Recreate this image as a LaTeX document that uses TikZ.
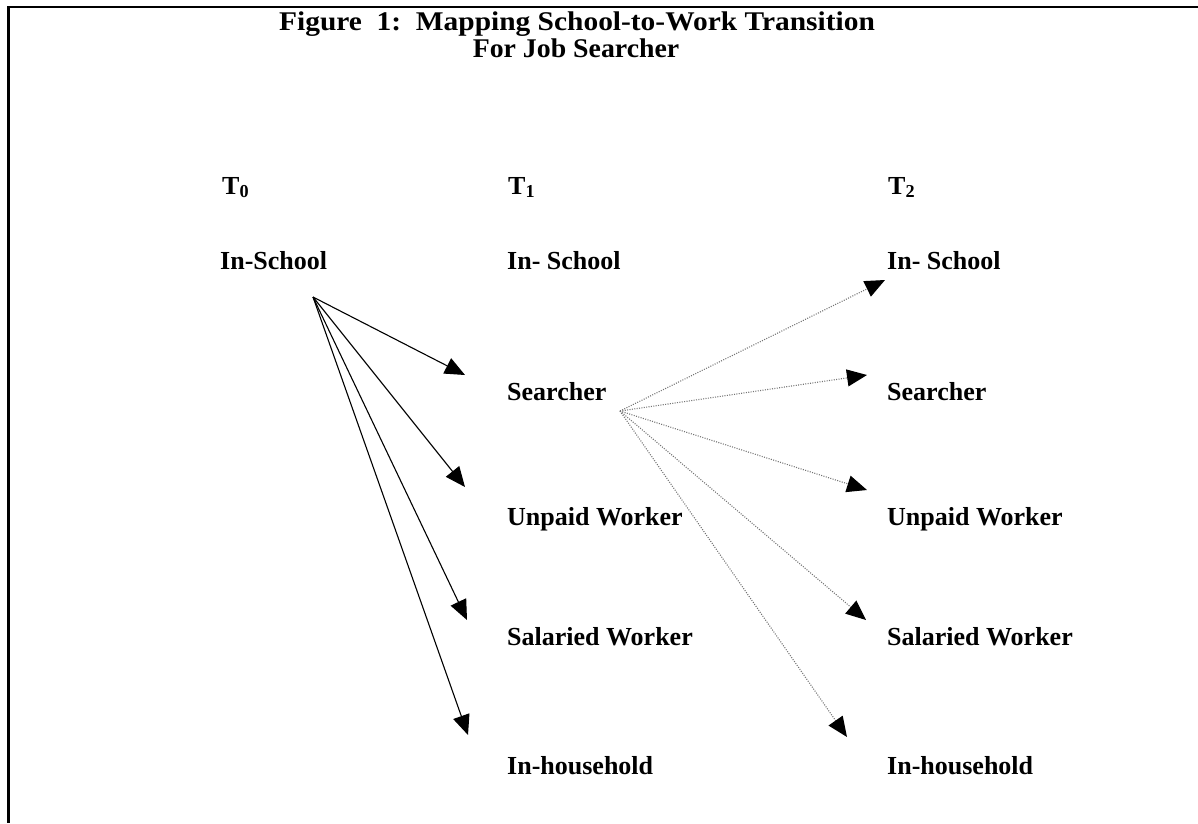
\documentclass[tikz,border=0pt]{standalone}
\usepackage{fontspec}
\setmainfont{Liberation Serif}
\usetikzlibrary{arrows.meta}
\begin{document}
\begin{tikzpicture}[x=1pt,y=-1pt,
  lbl/.style={anchor=base west,inner sep=0pt,font=\fontsize{26}{30}\selectfont\bfseries},
  ttl/.style={anchor=base,inner sep=0pt,font=\fontsize{27}{30}\selectfont\bfseries},
  head/.style={-{Triangle[length=20pt,width=17pt,color=black]}},
  solidarrow/.style={head,draw=black,line width=1.1pt},
  dotarrow/.style={head,draw=black!55,line width=1.1pt,dash pattern=on 1pt off 1.4pt}]
\useasboundingbox (0,0) rectangle (1198,823);
% frame: top and left rules only
\draw[line width=2.6pt] (1198,7) -- (8.5,7) -- (8.5,823);

% title, set slightly wide
\node[ttl] (title1) at (577,30) {\scalebox{1.09}[1]{Figure\ \ 1:\ \ Mapping School-to-Work Transition}};
\node[ttl] (title2) at (576,57) {\scalebox{1.03}[1]{For Job Searcher}};

% time columns
\node[lbl] (t0) at (222,194) {T\textsubscript{0}};
\node[lbl] (t1) at (508,194) {T\textsubscript{1}};
\node[lbl] (t2) at (888,194) {T\textsubscript{2}};

% column T0
\node[lbl] (school0) at (220,269) {In-School};

% column T1
\node[lbl] (school1) at (507,269) {In- School};
\node[lbl] (search1) at (507,400) {Searcher};
\node[lbl] (unpaid1) at (507,525) {Unpaid Worker};
\node[lbl] (salary1) at (507,645) {Salaried Worker};
\node[lbl] (house1)  at (507,774) {In-household};

% column T2
\node[lbl] (school2) at (887,269) {In- School};
\node[lbl] (search2) at (887,400) {Searcher};
\node[lbl] (unpaid2) at (887,525) {Unpaid Worker};
\node[lbl] (salary2) at (887,645) {Salaried Worker};
\node[lbl] (house2)  at (887,774) {In-household};

% arrow origins and tips
\coordinate (src0) at (313,297);
\coordinate (h1) at (465,375);
\coordinate (h2) at (465,487);
\coordinate (h3) at (467,620);
\coordinate (h4) at (468,735);

\coordinate (src1) at (620,411);
\coordinate (k0) at (885,280);
\coordinate (k1) at (867,375);
\coordinate (k2) at (867,490);
\coordinate (k3) at (866,620);
\coordinate (k4) at (847,737);

% transitions from school at T0
\foreach \t in {h1,h2,h3,h4}
  \draw[solidarrow] (src0) -- (\t);

% transitions from searching at T1
\foreach \t in {k0,k1,k2,k3,k4}
  \draw[dotarrow] (src1) -- (\t);
\end{tikzpicture}
\end{document}
